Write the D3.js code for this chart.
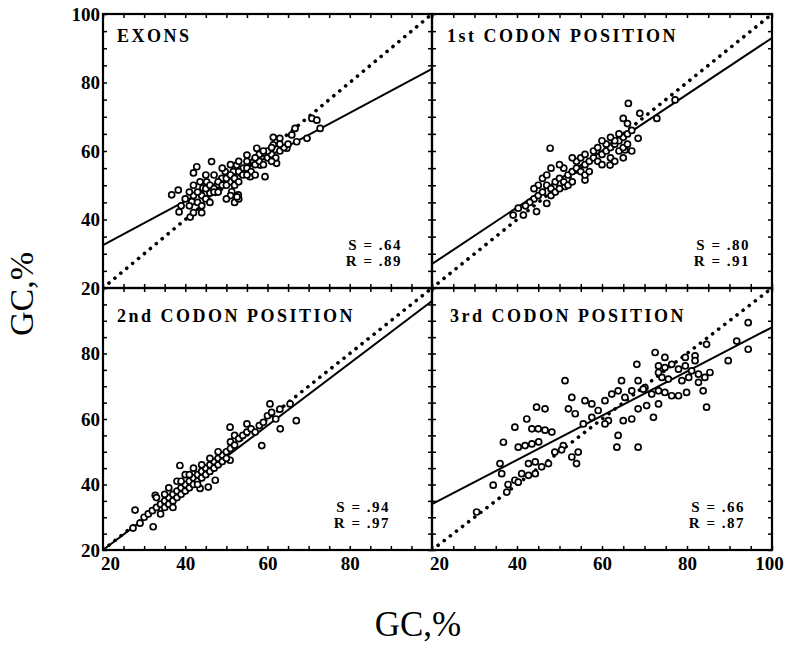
<!DOCTYPE html>
<html>
<head>
<meta charset="utf-8">
<script src="https://cdn.jsdelivr.net/npm/d3@7"></script>
<style>
  body { margin: 0; background: #fff; }
  text { font-family: "Liberation Serif", "Times New Roman", serif; fill: #000; }
</style>
</head>
<body>
<div id="chart"></div>
<script>
/***** data (GC %, gene vs. region) *****/
var panelTitles = ["EXONS", "1st CODON POSITION", "2nd CODON POSITION", "3rd CODON POSITION"];
var slopeS = [".64", ".80", ".94", ".66"];
var corrR = [".89", ".91", ".97", ".87"];
// regression line, value at x = 20 and x = 100
var fitLines = [
  [[20, 32.5], [100, 84]],
  [[20, 27], [100, 93]],
  [[20, 20], [100, 96]],
  [[20, 34], [100, 88]]
];
var diagonal = [[20, 20], [100, 100]];
var xTicksLeft = [20, 40, 60, 80];
var xTicksRight = [20, 40, 60, 80, 100];
var yTicksTop = [20, 40, 60, 80, 100];
var yTicksBottom = [20, 40, 60, 80];

var exonsPts = [
  [36.7,47.2],[38.3,48.6],[41.6,45.2],[42,50],[42.8,55.4],[42,53.6],[43.6,51],[44.3,49.2],[45.2,51],[46,47.7],
  [46.4,56.9],[47.7,50],[48.9,52],[49.7,54],[50.9,51],[51.7,54],[51.3,48.1],[52.9,47.2],[52.5,55.9],[54.1,55],
  [55,58.8],[55.8,52.5],[56.6,56.9],[57.4,60.8],[58.2,55.9],[59.4,52.5],[59.8,58.8],[61.4,61.8],[62.2,56.4],[63,63.7],
  [64.7,60.8],[65.9,64.7],[66.7,66.6],[67.1,62.7],[69.6,63.7],[70.8,69.5],[72,69],[72.8,66.6],[38.5,42.2],[41.2,40.7],
  [44,47],[45,49],[46,50],[47,49],[48,51],[49,50],[50,52],[51,53],[52,52],[53,54],
  [54,53],[55,55],[56,54],[57,56],[58,57],[59,56],[60,58],[61,59],[62,58],[63,60],
  [64,61],[65,62],[43,45],[44,44],[45,46],[46,45],[47,48],[48,48],[50,50],[52,50],
  [53,51],[55,53],[57,53],[58,59],[60,60],[61,57],[42,47],[41,44],[43,48],[45,53],
  [47,53],[49,55],[51,56],[53,57],[55,57],[57,58],[59,60],[61,61],[63,62],[40,46],
  [41,48],[39,44],[42,42],[44,42],[51,47],[50,46],[52,45],[53,46],[61.4,64],[52.6,46.6]
];

var codon1Pts = [
  [66.2,73.9],[65,69.5],[68.9,71],[68.5,63.7],[47.8,60.8],[65.4,60.3],[61.9,55.9],[56,51.5],[51.3,49.6],[47,44.7],
  [44.6,42.3],[40.3,43.3],[41.5,41.3],[39.1,41.3],[77.2,74.9],[72.9,69.5],
  [44,46],[45,47],[46,48],[47,50],[48,49],[49,51],[50,52],[51,51],[52,53],[53,54],
  [54,55],[55,54],[56,56],[57,57],[58,58],[59,57],[60,59],[61,60],[62,61],[63,62],
  [64,63],[65,64],[66,65],[67,66],[45,50],[46,52],[47,53],[48,47],[49,48],[50,49],
  [51,55],[52,50],[53,51],[54,57],[55,58],[56,53],[57,54],[58,60],[59,61],[60,56],
  [61,62],[62,58],[63,63],[64,60],[65,61],[66,62],[67,60],[43,45],[44,49],[42,44],
  [48,55],[50,56],[53,58],[56,59],[60,63],[62,64],[64,65],[66,68],[65,58],[63,57]
];

var codon2Pts = [
  [27.8,32.2],[32.2,27.1],[32.7,36.7],[38.7,45.8],[50.9,57.5],[55,58.5],[50.9,47.4],[58.6,51.9],[60.6,64.6],[63.1,57],
  [67,59.5],[65.5,64.6],[45.6,39.2],[47.3,41.3],[43.6,38.8],[27.3,26.7],[29,28.2],
  [30,30],[31,31],[32,32],[33,33],[34,34],[35,35],[35,33],[36,36],[36,34],[37,37],
  [37,35],[38,38],[38,36],[39,39],[39,37],[40,40],[40,38],[41,41],[41,39],[42,42],
  [42,40],[43,43],[43,41],[44,44],[44,42],[45,45],[45,43],[46,46],[46,44],[47,47],
  [47,45],[48,48],[48,46],[49,49],[49,47],[50,50],[50,48],[51,51],[51,53],[52,52],
  [52,55],[53,54],[54,55],[55,56],[56,57],[57,56],[58,58],[59,59],[60,61],[61,62],
  [62,60],[63,63],[34,31],[33,36],[36,39],[38,41],[40,43],[42,45],[44,46],[46,48],
  [48,50],[39,41],[41,43],[43,40],[37,33],[35,37]
];

var codon3Pts = [
  [94.4,89.4],[94.4,81.3],[91.7,83.8],[89.7,77.8],[84.6,82.8],[84.6,63.6],[83.8,68.6],[81.9,79.3],[79.9,68.1],[78,67.1],
  [68.2,76.7],[72.5,80.3],[51.3,71.7],[52.9,66.6],[46.6,63.1],[44.6,63.6],[42.3,60],[39.5,57.5],[36.8,52.9],[36,46.4],
  [36.4,43.3],[34.4,39.8],[37.6,37.7],[30.5,31.6],[63.5,51.4],[68.5,51.4],[63.8,55],[72.1,60.5],[54.4,49.9],[52.9,48.4],
  [54,46.4],[50.9,51.9],[43.5,57],[45,57],[46.6,56.6],[48.2,56],[40.3,51.4],[41.9,51.9],[43.5,52.4],[45.1,53],
  [42.7,46.4],[44.3,46.9],[45.8,45.4],[47.4,46.4],[41.1,43.3],[42.7,42.8],[44.3,43.3],[39.5,41.3],[37.9,40],[40.3,40.7],
  [48.9,49.9],[50.5,50.6],[52.1,63.1],[53.7,61.6],[56,65.6],[57.6,64.6],[59.1,62.6],[60.7,65.6],[62.3,67.6],[63.8,68.6],
  [64.6,71.7],[65.4,66.6],[67,68.6],[68.5,71.7],[70.1,69.6],[71.7,67.6],[73.3,68.6],[74.8,68.1],[76.4,67.1],[61.5,59.5],
  [65,59.5],[67,60],[68.5,63.1],[70.5,64.1],[73.3,64.6],[60.7,58.5],[57.6,60.5],[55.6,58.5],[73.3,76.2],[74.8,75.7],
  [76.4,76.7],[78,75.2],[79.6,76.2],[81.1,74.7],[82.7,73.7],[84.2,72.7],[85.4,74.2],[74.1,72.7],[75.6,72.2],[78.8,71.7],
  [80.4,72.7],[82.7,71.2],[73.3,74.2],[81.9,77.8],[79.6,78.8],[74.8,78.8],[69.7,69.1]
];

var allPts = [exonsPts, codon1Pts, codon2Pts, codon3Pts];

/***** layout *****/
var W = 785, H = 646;
var colX = [[103, 432], [432, 772]];
var rowY = [[14, 288], [288, 550]];
var statRight = [30, 22, 42, 27];
var titleLeft = [14, 15, 14, 18];

var svg = d3.select("#chart").append("svg")
  .attr("width", W)
  .attr("height", H);

svg.append("rect").attr("width", W).attr("height", H).attr("fill", "#fff");

var line = d3.line();

panelTitles.forEach(function (title, i) {
  var col = i % 2, row = Math.floor(i / 2);
  var x = d3.scaleLinear().domain([20, 100]).range(colX[col]);
  var y = d3.scaleLinear().domain([20, 100]).range([rowY[row][1], rowY[row][0]]);

  var g = svg.append("g").attr("class", "panel");
  var clipId = "clip" + i;
  g.append("clipPath").attr("id", clipId)
    .append("rect")
    .attr("x", colX[col][0]).attr("y", rowY[row][0])
    .attr("width", colX[col][1] - colX[col][0])
    .attr("height", rowY[row][1] - rowY[row][0]);

  var plot = g.append("g").attr("clip-path", "url(#" + clipId + ")");

  // y = x reference
  plot.append("path")
    .datum(diagonal)
    .attr("d", line.x(function (d) { return x(d[0]); }).y(function (d) { return y(d[1]); }))
    .attr("fill", "none")
    .attr("stroke", "#000")
    .attr("stroke-width", 3.6)
    .attr("stroke-linecap", "round")
    .attr("stroke-dasharray", "0.1 7.6");

  // regression
  plot.append("path")
    .datum(fitLines[i])
    .attr("d", line)
    .attr("fill", "none")
    .attr("stroke", "#000")
    .attr("stroke-width", 2);

  plot.selectAll("circle")
    .data(allPts[i])
    .enter().append("circle")
    .attr("cx", function (d) { return x(d[0]); })
    .attr("cy", function (d) { return y(d[1]); })
    .attr("r", 3)
    .attr("fill", "#fff")
    .attr("stroke", "#000")
    .attr("stroke-width", 1.7);

  // small inward ticks every 5 units on all four sides
  var minor = d3.range(20, 101, 5);
  function noDomain(sel) { sel.select(".domain").remove(); sel.selectAll("line").attr("stroke-width", 1.5); }
  g.append("g").attr("transform", "translate(0," + rowY[row][0] + ")")
    .call(d3.axisTop(x).tickValues(minor).tickSize(-4).tickFormat("")).call(noDomain);
  g.append("g").attr("transform", "translate(0," + rowY[row][1] + ")")
    .call(d3.axisBottom(x).tickValues(minor).tickSize(-4).tickFormat("")).call(noDomain);
  g.append("g").attr("transform", "translate(" + colX[col][0] + ",0)")
    .call(d3.axisLeft(y).tickValues(minor).tickSize(-4).tickFormat("")).call(noDomain);
  g.append("g").attr("transform", "translate(" + colX[col][1] + ",0)")
    .call(d3.axisRight(y).tickValues(minor).tickSize(-4).tickFormat("")).call(noDomain);

  g.append("rect")
    .attr("x", colX[col][0]).attr("y", rowY[row][0])
    .attr("width", colX[col][1] - colX[col][0])
    .attr("height", rowY[row][1] - rowY[row][0])
    .attr("fill", "none")
    .attr("stroke", "#000")
    .attr("stroke-width", 2.2);

  // tick labels
  if (col === 0) {
    var ya = g.append("g").attr("transform", "translate(" + (colX[0][0] - 2) + ",0)")
      .call(d3.axisLeft(y).tickValues(row === 0 ? yTicksTop : yTicksBottom).tickSize(0).tickPadding(1).tickFormat(d3.format("d")));
    ya.select(".domain").remove();
    ya.selectAll("text")
      .style("font-family", "'Liberation Serif', serif")
      .style("font-weight", "bold")
      .style("font-size", "19px")
      .attr("fill", "#000");
  }
  if (row === 1) {
    var xa = g.append("g").attr("transform", "translate(0," + rowY[1][1] + ")")
      .call(d3.axisBottom(x).tickValues(col === 0 ? xTicksLeft : xTicksRight).tickSize(0).tickPadding(7).tickFormat(d3.format("d")));
    xa.select(".domain").remove();
    xa.selectAll("text")
      .style("font-family", "'Liberation Serif', serif")
      .style("font-weight", "bold")
      .style("font-size", "19px")
      .attr("fill", "#000")
      .attr("dx", function (d) { return d === 20 ? 7 : (d === 100 ? -3 : 0); });
  }

  // title and stats
  g.append("text")
    .attr("x", colX[col][0] + titleLeft[i])
    .attr("y", rowY[row][0] + (row === 0 ? 28 : 34))
    .style("font-weight", "bold")
    .style("font-size", "18px")
    .style("letter-spacing", "2.5px")
    .text(title);

  var right = colX[col][1] - statRight[i];
  g.append("text")
    .attr("x", right).attr("y", rowY[row][1] - 38)
    .attr("text-anchor", "end")
    .style("font-weight", "bold")
    .style("font-size", "15px")
    .style("letter-spacing", "1.5px")
    .text("S = " + slopeS[i]);
  g.append("text")
    .attr("x", right).attr("y", rowY[row][1] - 22)
    .attr("text-anchor", "end")
    .style("font-weight", "bold")
    .style("font-size", "15px")
    .style("letter-spacing", "1.5px")
    .text("R = " + corrR[i]);
});

// axis titles
svg.append("text")
  .attr("x", 418).attr("y", 636)
  .attr("text-anchor", "middle")
  .style("font-size", "35px")
  .text("GC,%");

svg.append("text")
  .attr("transform", "translate(33,294) rotate(-90)")
  .attr("text-anchor", "middle")
  .style("font-size", "34px")
  .text("GC,%");
</script>
</body>
</html>
